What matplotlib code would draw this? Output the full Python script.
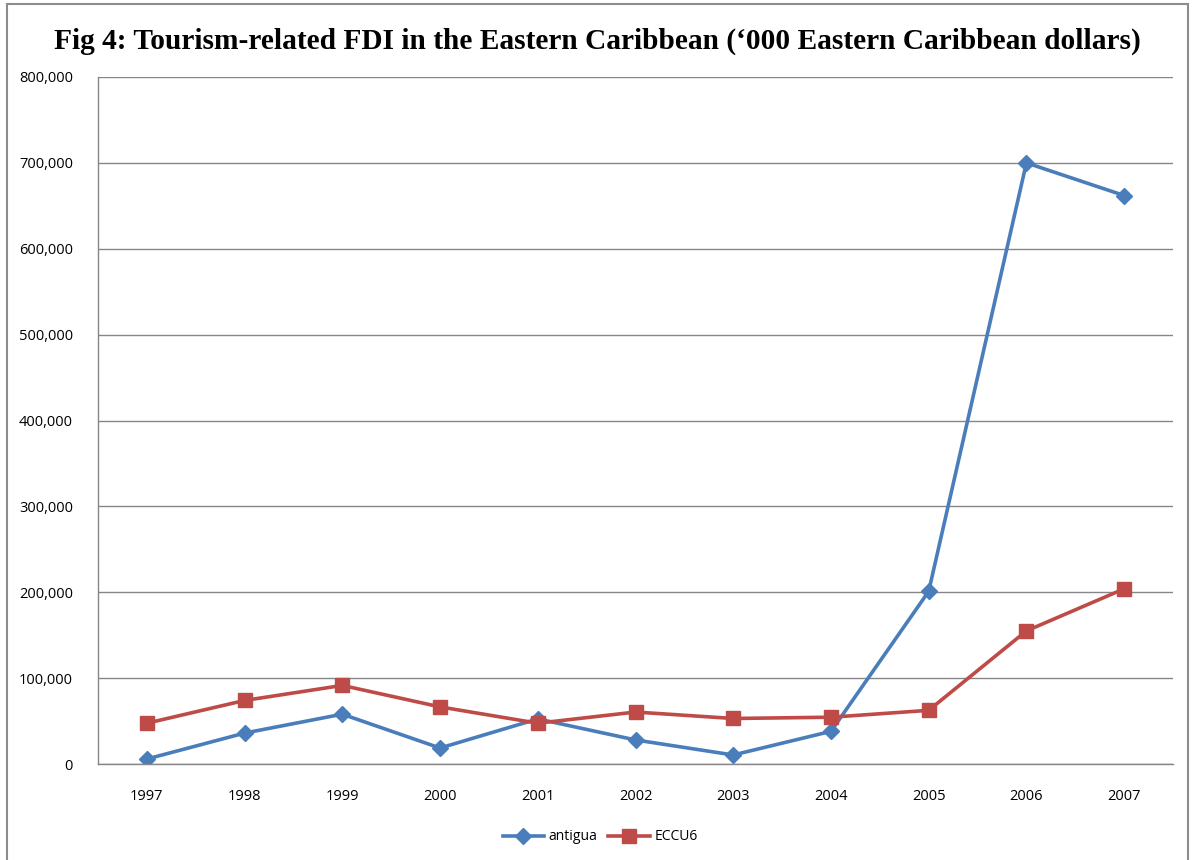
import matplotlib
matplotlib.use("Agg")
import matplotlib.pyplot as plt
from matplotlib.patches import Rectangle
from matplotlib.ticker import FuncFormatter

years = ["1997", "1998", "1999", "2000", "2001", "2002", "2003", "2004", "2005", "2006", "2007"]
antigua = [5800, 36000, 58000, 18600, 52500, 28000, 10500, 38000, 201000, 700000, 662000]
eccu6 = [47500, 74000, 91500, 66500, 47500, 60500, 53000, 54500, 62500, 155000, 204000]

title = "Fig 4: Tourism-related FDI in the Eastern Caribbean (\u2018000 Eastern Caribbean dollars)"

fig = plt.figure(figsize=(11.95, 8.6), dpi=100)
fig.patch.set_facecolor("white")
fig.patches.append(Rectangle((7/1195, -0.05), (1188-7)/1195, 1.05 - 4/860, transform=fig.transFigure,
                             fill=False, edgecolor="#8c8c8c", linewidth=1.5))

ax = fig.add_axes([98/1195, (860-764)/860, (1173-98)/1195, (764-77)/860])
x = list(range(len(years)))
ax.plot(x, antigua, color="#4A7EBB", linewidth=2.6, marker="D", markersize=8, label="antigua")
ax.plot(x, eccu6, color="#BE4B48", linewidth=2.6, marker="s", markersize=9.5, label="ECCU6")

ax.set_xlim(-0.5, len(years) - 0.5)
ax.set_ylim(0, 800000)
ax.set_yticks(range(0, 800001, 100000))
ax.yaxis.set_major_formatter(FuncFormatter(lambda v, p: f"{int(v):,}"))
ax.set_xticks(x)
ax.set_xticklabels(years)
ax.grid(axis="y", color="#868686", linewidth=1.0)
ax.set_axisbelow(True)
for s in ["top", "right"]:
    ax.spines[s].set_visible(False)
for s in ["left", "bottom"]:
    ax.spines[s].set_color("#868686")
    ax.spines[s].set_linewidth(1.0)
ax.tick_params(axis="both", length=0, labelsize=10.5, colors="black")
ax.tick_params(axis="y", pad=18)
ax.tick_params(axis="x", pad=18)
for lbl in ax.get_xticklabels() + ax.get_yticklabels():
    lbl.set_fontfamily("Open Sans")

fig.text(0.5, 1 - 41/860, title, ha="center", va="center", fontsize=21.2,
         fontweight="bold", family="Liberation Serif")

leg = fig.legend(loc="center", bbox_to_anchor=(600/1195, 1 - 837/860), ncol=2, frameon=False,
                 prop={"family": "Open Sans", "size": 10}, handlelength=3, columnspacing=0.8,
                 handletextpad=0.3)

fig.savefig("out.png", dpi=100)
